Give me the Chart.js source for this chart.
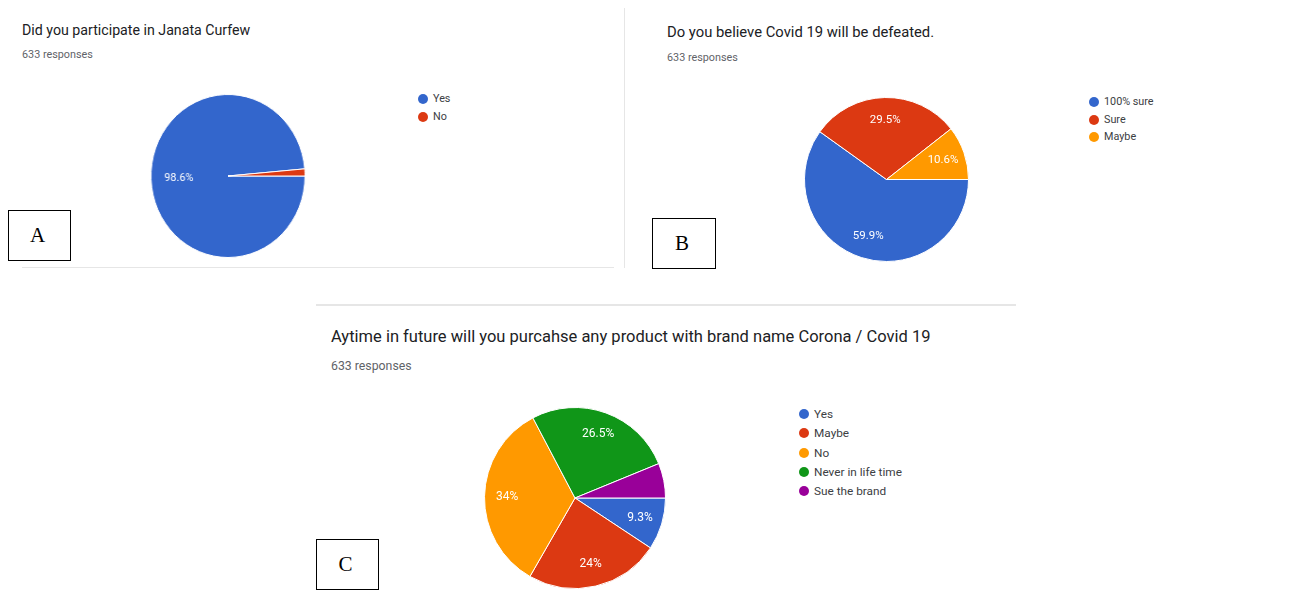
<!DOCTYPE html>
<html>
<head>
<meta charset="utf-8">
<script src="https://cdn.jsdelivr.net/npm/chart.js@4.4.1/dist/chart.umd.min.js"></script>
<style>
  html, body { margin: 0; padding: 0; background: #fff; }
  body { width: 1306px; height: 590px; position: relative; overflow: hidden; font-family: Roboto, "Noto Sans", Arial, sans-serif; }
  .abs { position: absolute; white-space: nowrap; }
  .title { color: #202124; }
  .sub { color: #5f6368; }
  .pie { position: absolute; }
  .box { position: absolute; border: 1.5px solid #000; box-sizing: border-box; font-family: "Liberation Serif", "Times New Roman", serif; font-size: 21px; display: flex; align-items: center; justify-content: center; color: #000; }
  .legend-item { position: absolute; white-space: nowrap; color: #3c4043; }
  .dot { position: absolute; border-radius: 50%; }
  .rule { position: absolute; background: #e6e6e6; }
</style>
</head>
<body>

<div class="rule" style="left:22px; top:267px; width:592px; height:1px;"></div>
<div class="rule" style="left:624px; top:8px; width:1px; height:260px;"></div>
<div class="rule" style="left:316px; top:304px; width:700px; height:1.5px;"></div>

<div class="abs title" style="left:22px; top:22px; font-size:14.2px; line-height:16px;">Did you participate in Janata Curfew</div>
<div class="abs sub" style="left:22px; top:49px; font-size:10.8px; line-height:12px;">633 responses</div>

<div class="abs title" style="left:667px; top:24px; font-size:14.8px; line-height:16px;">Do you believe Covid 19 will be defeated.</div>
<div class="abs sub" style="left:667px; top:52px; font-size:10.8px; line-height:12px;">633 responses</div>

<div class="abs title" style="left:331px; top:328px; font-size:16.5px; line-height:18px;">Aytime in future will you purcahse any product with brand name Corona / Covid 19</div>
<div class="abs sub" style="left:331px; top:359px; font-size:12.3px; line-height:14px;">633 responses</div>

<div class="pie" style="left:146px; top:94px; width:164px; height:164px; transform:scaleX(0.945);"><canvas id="pieA"></canvas></div>
<div class="pie" style="left:804px; top:97px; width:165px; height:165px;"><canvas id="pieB"></canvas></div>
<div class="pie" style="left:484px; top:407px; width:182px; height:182px;"><canvas id="pieC"></canvas></div>

<div id="legendA"></div>
<div id="legendB"></div>
<div id="legendC"></div>

<div class="box" style="left:8px; top:210px; width:63px; height:51px;"><span style="margin-right:4px">A</span></div>
<div class="box" style="left:652px; top:218px; width:64px; height:51px;"><span style="margin-right:4px">B</span></div>
<div class="box" style="left:316px; top:539px; width:63px; height:51px;"><span style="margin-right:4px">C</span></div>

<script>
// A: Did you participate in Janata Curfew
const labelsA = ["Yes", "No"];
const valuesA = [98.6, 1.4];

// B: Do you believe Covid 19 will be defeated
const labelsB = ["100% sure", "Sure", "Maybe"];
const valuesB = [59.9, 29.5, 10.6];

// C: brand name Corona / Covid 19
const labelsC = ["Yes", "Maybe", "No", "Never in life time", "Sue the brand"];
const valuesC = [9.3, 24, 34, 26.5, 6.2];

const googleColors = ["#3366cc", "#dc3912", "#ff9900", "#109618", "#990099"];

function pct(v) {
    return (+v.toFixed(1)) + "%";
}

// draws the percentage text inside each slice that is big enough
const sliceLabels = {
    id: 'sliceLabels',
    afterDatasetsDraw(chart, args, opts) {
        const ctx = chart.ctx;
        const meta = chart.getDatasetMeta(0);
        const data = chart.data.datasets[0].data;
        const total = data.reduce((a, b) => a + b, 0);
        ctx.save();
        ctx.font = opts.font;
        ctx.fillStyle = '#fff';
        ctx.textAlign = 'center';
        ctx.textBaseline = 'middle';
        meta.data.forEach((arc, i) => {
            if (data[i] / total * 100 < opts.minPct) return;
            const p = arc.getProps(['startAngle', 'endAngle', 'outerRadius', 'x', 'y'], true);
            const mid = (p.startAngle + p.endAngle) / 2;
            const r = p.outerRadius * opts.ratio;
            ctx.fillText(pct(data[i]), p.x + Math.cos(mid) * r, p.y + Math.sin(mid) * r);
        });
        ctx.restore();
    }
};

function drawPie(id, labels, values, ratio, fontSize) {
    new Chart(document.getElementById(id), {
        type: 'pie',
        data: {
            labels: labels,
            datasets: [{
                data: values,
                backgroundColor: googleColors.slice(0, values.length),
                borderColor: '#ffffff',
                borderWidth: 1
            }]
        },
        options: {
            responsive: true,
            maintainAspectRatio: false,
            animation: false,
            rotation: 90,
            layout: { padding: 0 },
            plugins: {
                legend: { display: false },
                tooltip: { enabled: false },
                sliceLabels: { font: fontSize + 'px Roboto, Arial, sans-serif', minPct: 8, ratio: ratio }
            }
        },
        plugins: [sliceLabels]
    });
}

function drawLegend(id, labels, x, y, gap, fontSize) {
    const el = document.getElementById(id);
    labels.forEach((label, i) => {
        const cy = y + i * gap;
        const dot = document.createElement('div');
        dot.className = 'dot';
        dot.style.cssText = `left:${x - 5}px; top:${cy - 5}px; width:10px; height:10px; background:${googleColors[i]};`;
        el.appendChild(dot);
        const txt = document.createElement('div');
        txt.className = 'legend-item';
        txt.textContent = label;
        txt.style.cssText = `left:${x + 10}px; top:${cy - 7}px; font-size:${fontSize}px; line-height:14px;`;
        el.appendChild(txt);
    });
}

drawPie('pieA', labelsA, valuesA, 0.64, 11.5);
drawPie('pieB', labelsB, valuesB, 0.73, 11.5);
drawPie('pieC', labelsC, valuesC, 0.75, 12);

drawLegend('legendA', labelsA, 423, 99, 18, 10.8);
drawLegend('legendB', labelsB, 1094, 102, 17.5, 10.8);
drawLegend('legendC', labelsC, 804, 414, 19.3, 11.8);
</script>
</body>
</html>
